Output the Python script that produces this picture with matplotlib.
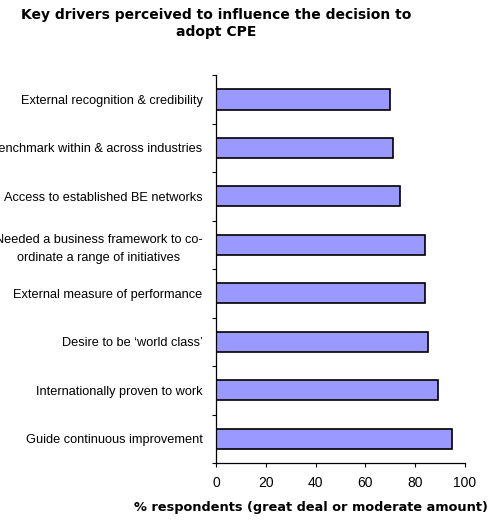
import numpy as np
import matplotlib.pyplot as plt

# Данные (снизу вверх)
drivers = [
    "Guide continuous improvement",
    "Internationally proven to work",
    "Desire to be \u2018world class\u2019",
    "External measure of performance",
    "Needed a business framework to co-\nordinate a range of initiatives",
    "Access to established BE networks",
    "Benchmark within & across industries",
    "External recognition & credibility",
]
percent = [95, 89, 85, 84, 84, 74, 71, 70]
xticks = [0, 20, 40, 60, 80, 100]

plt.rcParams['font.family'] = ['Liberation Sans', 'DejaVu Sans']

fig = plt.figure(figsize=(4.94, 5.2), dpi=100)
ax = fig.add_axes([0.438, 0.1096, 0.503, 0.746])

y = np.arange(len(drivers))
ax.barh(y, percent, height=0.42, color='#9999FF', edgecolor='black', linewidth=1.2)

ax.set_xlim(0, 100)
ax.set_ylim(-0.5, len(drivers) - 0.5)
ax.set_xticks(xticks)
ax.set_xticklabels([str(t) for t in xticks], fontsize=10)
ax.tick_params(axis='x', length=3, width=0.8, pad=6)

# подписи по центрам, засечки между категориями
ax.set_yticks(y)
ax.set_yticklabels(drivers, fontsize=9.2)
ax.set_yticks(np.arange(-0.5, len(drivers), 1), minor=True)
ax.tick_params(axis='y', which='major', length=0, pad=10)
ax.tick_params(axis='y', which='minor', length=3, width=0.8)
for lab in ax.get_yticklabels():
    lab.set_multialignment('center')
    lab.set_linespacing(1.65)

for s in ['top', 'right']:
    ax.spines[s].set_visible(False)
for s in ['left', 'bottom']:
    ax.spines[s].set_linewidth(0.9)

fig.text(0.438, 0.984, "Key drivers perceived to influence the decision to\nadopt CPE",
         ha='center', va='top', fontsize=10, fontweight='bold',
         family='DejaVu Sans', linespacing=1.25)

fig.text(0.63, 0.012, "% respondents (great deal or moderate amount)",
         ha='center', va='bottom', fontsize=9.3, fontweight='bold', family='DejaVu Sans')

plt.savefig('out.png', dpi=100)
